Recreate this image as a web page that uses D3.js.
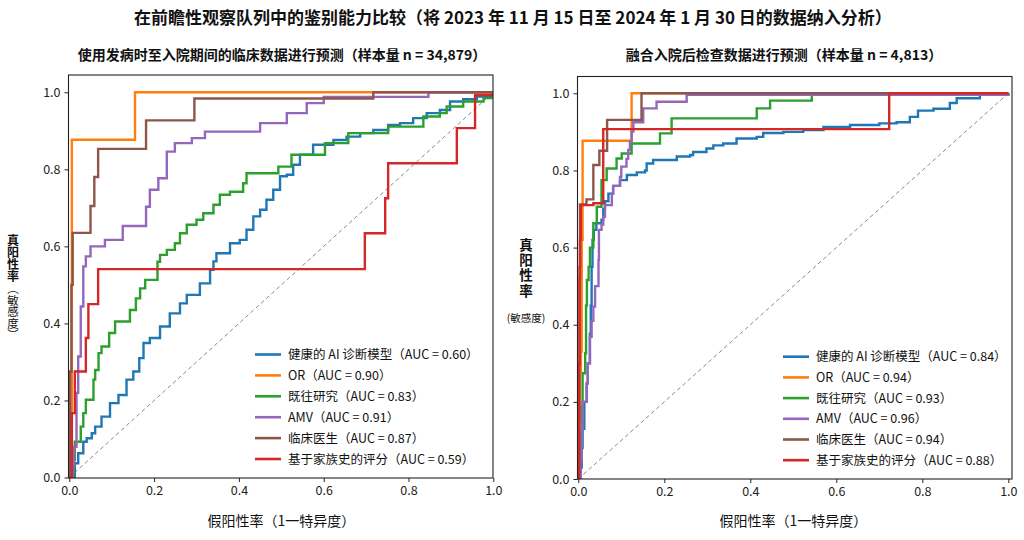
<!DOCTYPE html>
<html>
<head>
<meta charset="utf-8">
<script src="https://cdn.jsdelivr.net/npm/d3@7"></script>
<style>
  body { margin: 0; background: #fff; }
  svg { display: block; font-family: "Noto Sans CJK SC", "Noto Sans", sans-serif; }
</style>
</head>
<body>
<svg id="chart" width="1024" height="540"></svg>
<script>
// ---- text ----
const mainTitle = '在前瞻性观察队列中的鉴别能力比较（将 2023 年 11 月 15 日至 2024 年 1 月 30 日的数据纳入分析）';
const panelTitles = [
    '使用发病时至入院期间的临床数据进行预测（样本量 n = 34,879）',
    '融合入院后检查数据进行预测（样本量 n = 4,813）'
];
const xLabel = '假阳性率（1一特异度）';
const yLabelMain = '真阳性率';
const yLabelSub = '敏感度';
const seriesNames = ['健康的 AI 诊断模型', 'OR', '既往研究', 'AMV', '临床医生', '基于家族史的评分'];
const seriesColors = ['#1f77b4', '#ff7f0e', '#2ca02c', '#9467bd', '#8c564b', '#d62728'];
const aucLeft = [0.60, 0.90, 0.83, 0.91, 0.87, 0.59];
const aucRight = [0.84, 0.94, 0.93, 0.96, 0.94, 0.88];
const tickValues = [0, 0.2, 0.4, 0.6, 0.8, 1.0];

// ---- left panel ROC points [fpr, tpr], step corners ----
const aiLeft = [[0,0],[0.013,0.037],[0.021,0.063],[0.033,0.093],[0.041,0.102],[0.053,0.115],[0.061,0.132],
    [0.076,0.158],[0.096,0.193],[0.116,0.214],[0.135,0.254],[0.151,0.275],[0.165,0.31],[0.175,0.349],[0.19,0.362],
    [0.214,0.392],[0.237,0.426],[0.261,0.452],[0.277,0.474],[0.308,0.504],[0.332,0.539],[0.34,0.561],[0.347,0.582],
    [0.379,0.608],[0.402,0.617],[0.418,0.643],[0.434,0.678],[0.45,0.695],[0.465,0.721],[0.481,0.747],[0.497,0.782],
    [0.513,0.786],[0.528,0.812],[0.544,0.838],[0.575,0.864],[0.623,0.876],[0.654,0.885],[0.686,0.894],[0.717,0.902],
    [0.752,0.915],[0.78,0.92],[0.811,0.933],[0.843,0.946],[0.874,0.954],[0.898,0.976],[0.929,0.982],[0.961,0.989],
    [1,0.996],[1,1]];
const orLeft = [[0,0],[0.006,0.877],[0.155,1.0],[1,1]];
const priorLeft = [[0,0],[0.0095,0.045],[0.013,0.093],[0.027,0.132],[0.033,0.167],[0.039,0.202],[0.057,0.254],
    [0.061,0.279],[0.069,0.323],[0.076,0.34],[0.094,0.375],[0.108,0.405],[0.143,0.435],[0.157,0.465],[0.167,0.491],
    [0.179,0.513],[0.208,0.56],[0.214,0.578],[0.23,0.591],[0.249,0.608],[0.261,0.634],[0.277,0.656],[0.3,0.669],
    [0.316,0.686],[0.34,0.708],[0.355,0.734],[0.379,0.742],[0.41,0.764],[0.418,0.79],[0.493,0.807],[0.524,0.838],
    [0.603,0.868],[0.658,0.894],[0.752,0.911],[0.835,0.937],[0.874,0.946],[0.89,0.963],[0.929,0.976],[0.977,0.985],
    [1,0.996],[1,1]];
const amvLeft = [[0,0],[0.008,0.03],[0.011,0.08],[0.017,0.22],[0.021,0.314],[0.027,0.444],[0.033,0.548],
    [0.039,0.574],[0.05,0.6],[0.084,0.617],[0.126,0.653],[0.181,0.703],[0.19,0.747],[0.21,0.777],[0.23,0.846],
    [0.249,0.868],[0.289,0.881],[0.32,0.898],[0.45,0.92],[0.513,0.946],[0.56,0.972],[0.6,0.988],[0.847,1.0],[1,1]];
const clinLeft = [[0,0],[0.002,0.275],[0.005,0.5],[0.008,0.635],[0.05,0.705],[0.059,0.78],[0.068,0.853],
    [0.181,0.927],[0.295,0.984],[0.717,1.0],[1,1]];
const famLeft = [[0,0],[0.006,0.167],[0.013,0.275],[0.039,0.362],[0.045,0.45],[0.068,0.541],[0.697,0.634],
    [0.745,0.725],[0.752,0.816],[0.914,0.907],[0.957,0.993],[1,1]];

// ---- right panel ROC points ----
const aiRight = [[0,0],[0.005,0.03],[0.008,0.08],[0.01,0.13],[0.014,0.2],[0.0195,0.248],[0.022,0.3],[0.027,0.377],
    [0.029,0.45],[0.031,0.55],[0.033,0.62],[0.036,0.646],[0.042,0.663],[0.054,0.672],[0.058,0.7],[0.062,0.72],
    [0.07,0.74],[0.081,0.76],[0.097,0.775],[0.113,0.788],[0.136,0.795],[0.155,0.8],[0.159,0.818],[0.174,0.827],
    [0.229,0.836],[0.26,0.84],[0.267,0.848],[0.298,0.857],[0.314,0.865],[0.337,0.87],[0.368,0.883],[0.415,0.887],
    [0.43,0.897],[0.477,0.9],[0.523,0.905],[0.57,0.913],[0.632,0.918],[0.7,0.922],[0.74,0.925],[0.771,0.939],
    [0.79,0.955],[0.826,0.96],[0.864,0.975],[0.88,0.987],[0.934,0.996],[1,1]];
const orRight = [[0,0],[0.002,0.15],[0.004,0.28],[0.006,0.33],[0.008,0.62],[0.01,0.877],[0.124,1.0],[1,1]];
const priorRight = [[0,0],[0.002,0.03],[0.004,0.119],[0.008,0.188],[0.01,0.274],[0.016,0.326],[0.018,0.45],
    [0.02,0.516],[0.024,0.55],[0.027,0.6],[0.035,0.663],[0.043,0.706],[0.054,0.775],[0.066,0.805],[0.089,0.831],
    [0.101,0.844],[0.124,0.87],[0.19,0.896],[0.217,0.935],[0.415,0.961],[0.446,0.981],[0.543,0.998],[1,1]];
const amvRight = [[0,0],[0.005,0.05],[0.008,0.13],[0.01,0.2],[0.0195,0.248],[0.022,0.3],[0.027,0.369],
    [0.031,0.41],[0.035,0.447],[0.039,0.5],[0.047,0.568],[0.048,0.646],[0.054,0.66],[0.058,0.68],[0.062,0.71],
    [0.078,0.74],[0.081,0.76],[0.097,0.783],[0.1,0.81],[0.112,0.83],[0.116,0.853],[0.12,0.875],[0.124,0.901],
    [0.128,0.925],[0.151,0.961],[0.182,0.978],[0.252,0.996],[1,1]];
const clinRight = [[0,0],[0.002,0.3],[0.003,0.52],[0.004,0.712],[0.019,0.725],[0.035,0.814],[0.049,0.851],
    [0.067,0.931],[0.147,1.0],[1,1]];
const famRight = [[0,0],[0.002,0.3],[0.003,0.55],[0.004,0.62],[0.006,0.71],[0.035,0.715],[0.058,0.907],
    [0.723,1.0],[1,1]];

const panels = [
    {
        title: panelTitles[0], titleX: 282,
        series: [aiLeft, orLeft, priorLeft, amvLeft, clinLeft, famLeft], auc: aucLeft,
        xRange: [69.3, 493.3], yRange: [477.5, 92.3],
        frame: { left: 68.5, top: 75, right: 493, bottom: 478 },
        legend: { x: 255, y: 354.5, step: 20.9 },
        yLabel: 'vertical'
    },
    {
        title: panelTitles[1], titleX: 784,
        series: [aiRight, orRight, priorRight, amvRight, clinRight, famRight], auc: aucRight,
        xRange: [578.3, 1008.3], yRange: [479, 93.3],
        frame: { left: 577.5, top: 76.5, right: 1012, bottom: 479 },
        legend: { x: 783, y: 356.7, step: 20.7 },
        yLabel: 'mixed'
    }
];

const svg = d3.select('#chart');

svg.append('text')
    .attr('x', 513).attr('y', 24)
    .attr('text-anchor', 'middle')
    .attr('font-size', '17px')
    .attr('font-weight', 'bold')
    .attr('fill', '#111')
    .text(mainTitle);

panels.forEach(p => drawPanel(p));

function drawPanel(p) {
    const x = d3.scaleLinear().domain([0, 1]).range(p.xRange);
    const y = d3.scaleLinear().domain([0, 1]).range(p.yRange);
    const g = svg.append('g');
    const f = p.frame;

    // panel title
    g.append('text')
        .attr('x', p.titleX).attr('y', 60)
        .attr('text-anchor', 'middle')
        .attr('font-size', '14px')
        .attr('font-weight', 'bold')
        .attr('fill', '#111')
        .text(p.title);

    // clip for the curves
    const clipId = 'clip' + Math.round(f.left);
    g.append('clipPath').attr('id', clipId)
        .append('rect')
        .attr('x', f.left).attr('y', f.top)
        .attr('width', f.right - f.left).attr('height', f.bottom - f.top);

    const plot = g.append('g').attr('clip-path', `url(#${clipId})`);

    // chance diagonal
    plot.append('line')
        .attr('x1', x(0)).attr('y1', y(0))
        .attr('x2', x(1)).attr('y2', y(1))
        .attr('stroke', '#888')
        .attr('stroke-width', 1)
        .attr('stroke-dasharray', '4,3');

    const line = d3.line()
        .x(d => x(d[0]))
        .y(d => y(d[1]))
        .curve(d3.curveStepAfter);

    p.series.forEach((pts, i) => {
        plot.append('path')
            .datum(pts)
            .attr('fill', 'none')
            .attr('stroke', seriesColors[i])
            .attr('stroke-width', 2.4)
            .attr('stroke-linejoin', 'miter')
            .attr('d', line);
    });

    // frame
    g.append('rect')
        .attr('x', f.left).attr('y', f.top)
        .attr('width', f.right - f.left).attr('height', f.bottom - f.top)
        .attr('fill', 'none')
        .attr('stroke', '#222')
        .attr('stroke-width', 1.1);

    // axes
    const xAxis = d3.axisBottom(x).tickValues(tickValues).tickFormat(d3.format('.1f')).tickSize(4).tickPadding(4);
    const yAxis = d3.axisLeft(y).tickValues(tickValues).tickFormat(d3.format('.1f')).tickSize(4).tickPadding(4);

    const gx = g.append('g').attr('transform', `translate(0,${f.bottom})`).call(xAxis);
    const gy = g.append('g').attr('transform', `translate(${f.left},0)`).call(yAxis);
    [gx, gy].forEach(a => {
        a.select('.domain').remove();
        a.selectAll('.tick line').attr('stroke', '#222');
        a.selectAll('.tick text')
            .attr('font-family', '"Noto Sans CJK SC", "Noto Sans", sans-serif')
            .attr('font-size', '12.5px')
            .attr('fill', '#222');
    });

    // x label
    g.append('text')
        .attr('x', (p.xRange[0] + p.xRange[1]) / 2).attr('y', 526)
        .attr('text-anchor', 'middle')
        .attr('font-size', '14px')
        .attr('fill', '#111')
        .text(xLabel);

    // y label: stacked vertically (left panel fully vertical, right panel with a flat sub-label)
    if (p.yLabel === 'vertical') {
        g.append('text')
            .attr('x', 13).attr('y', 234)
            .style('writing-mode', 'vertical-rl')
            .attr('font-size', '12px')
            .attr('font-weight', 'bold')
            .attr('fill', '#111')
            .text(yLabelMain);
        g.append('text')
            .attr('x', 13).attr('y', 283)
            .style('writing-mode', 'vertical-rl')
            .attr('font-size', '11.5px')
            .attr('fill', '#111')
            .text(`（${yLabelSub}）`);
    } else {
        g.append('text')
            .attr('x', 526).attr('y', 238)
            .style('writing-mode', 'vertical-rl')
            .style('letter-spacing', '1.8px')
            .attr('font-size', '13.5px')
            .attr('font-weight', 'bold')
            .attr('fill', '#111')
            .text(yLabelMain);
        g.append('text')
            .attr('x', 526).attr('y', 322)
            .attr('text-anchor', 'middle')
            .attr('font-size', '10.5px')
            .attr('fill', '#111')
            .text(`(${yLabelSub})`);
    }

    // legend
    const leg = g.append('g');
    seriesNames.forEach((name, i) => {
        const ly = p.legend.y + i * p.legend.step;
        leg.append('line')
            .attr('x1', p.legend.x).attr('x2', p.legend.x + 26)
            .attr('y1', ly).attr('y2', ly)
            .attr('stroke', seriesColors[i])
            .attr('stroke-width', 2.6);
        leg.append('text')
            .attr('x', p.legend.x + 33).attr('y', ly + 4.5)
            .attr('font-size', '12.5px')
            .attr('fill', '#111')
            .text(`${name}（AUC = ${p.auc[i].toFixed(2)}）`);
    });
}
</script>
</body>
</html>
